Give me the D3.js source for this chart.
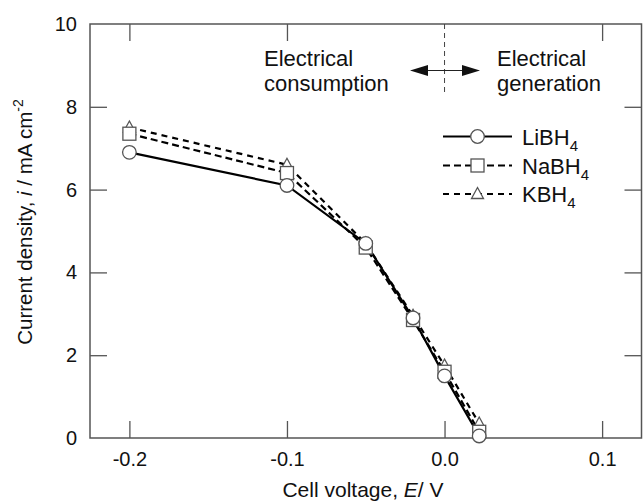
<!DOCTYPE html>
<html><head><meta charset="utf-8">
<script src="https://cdn.jsdelivr.net/npm/d3@7"></script>
<style>body{margin:0;background:#fff}svg{display:block}text{font-family:"Liberation Sans",Arial,Helvetica,sans-serif;fill:#111}</style>
</head><body><svg id="c" width="643" height="504"></svg>
<script>
// ---- data ----
const xTicks = [-0.2, -0.1, 0.0, 0.1];
const yTicks = [2, 4, 6, 8];
const yLabels = [0, 2, 4, 6, 8, 10];
const voltage = [-0.2, -0.1, -0.05, -0.02, 0.0, 0.022];
const liBH4 = [6.9, 6.1, 4.7, 2.9, 1.5, 0.05];
const naBH4 = [7.35, 6.4, 4.6, 2.85, 1.6, 0.15];
const kBH4  = [7.5, 6.6, 4.7, 2.95, 1.75, 0.35];

const svg = d3.select("#c");
const L = 90, R = 641.5, T = 24, B = 438;
const x = d3.scaleLinear().domain([-0.225, 0.125]).range([L, R]);
const y = d3.scaleLinear().domain([0, 10]).range([B, T]);
const frameCol = "#555";
const TK = 17;

// axes (inward ticks)
const fmtX = d => d.toFixed(1);
const gB = svg.append("g").attr("transform", `translate(0,${B})`)
  .call(d3.axisBottom(x).tickValues(xTicks).tickSizeInner(-TK).tickSizeOuter(0).tickPadding(14).tickFormat(fmtX));
const gL = svg.append("g").attr("transform", `translate(${L},0)`)
  .call(d3.axisLeft(y).tickValues(yLabels).tickSizeInner(-TK).tickSizeOuter(0).tickPadding(13).tickFormat(d3.format("d")));
const gR = svg.append("g").attr("transform", `translate(${R},0)`)
  .call(d3.axisRight(y).tickValues(yTicks).tickSizeInner(-TK).tickSizeOuter(0).tickFormat(""));
const gT = svg.append("g").attr("transform", `translate(0,${T})`)
  .call(d3.axisTop(x).tickValues(xTicks.filter(v => v !== 0)).tickSizeInner(-TK).tickSizeOuter(0).tickFormat(""));
[gB, gL, gR, gT].forEach(g => {
  g.select(".domain").remove();
  g.selectAll(".tick line").attr("stroke", frameCol).attr("stroke-width", 1.3);
  g.selectAll(".tick text").attr("font-size", 20).attr("fill", "#111")
    .style("font-family", '"Liberation Sans",Arial,sans-serif');
});
gL.selectAll(".tick").filter(d => d === 0 || d === 10).select("line").remove();
gB.selectAll(".tick text").attr("dy", "0.71em");

svg.append("rect").attr("x", L).attr("y", T).attr("width", R - L).attr("height", B - T)
  .attr("fill", "none").attr("stroke", frameCol).attr("stroke-width", 1.5);

// axis titles
svg.append("text").attr("x", 363).attr("y", 497).attr("text-anchor", "middle")
  .attr("font-size", 21).html('Cell voltage, <tspan font-style="italic">E</tspan>/ V');
svg.append("text").attr("transform", `translate(32,222) rotate(-90)`)
  .attr("text-anchor", "middle").attr("font-size", 20.5)
  .html('Current density, <tspan font-style="italic">i</tspan> / mA cm<tspan dy="-9" font-size="14">-2</tspan>');

// annotation: dashed line at E=0, arrow and texts
svg.append("line").attr("x1", x(0)).attr("x2", x(0)).attr("y1", T).attr("y2", 93)
  .attr("stroke", "#444").attr("stroke-width", 1).attr("stroke-dasharray", "5,4");
const ay = 70.5, ax1 = 410, ax2 = 480;
svg.append("line").attr("x1", ax1 + 10).attr("x2", ax2 - 10).attr("y1", ay).attr("y2", ay)
  .attr("stroke", "#222").attr("stroke-width", 1);
svg.append("path").attr("d", `M${ax1},${ay}L${ax1 + 18},${ay - 5.5}L${ax1 + 18},${ay + 5.5}Z`).attr("fill", "#111");
svg.append("path").attr("d", `M${ax2},${ay}L${ax2 - 18},${ay - 5.5}L${ax2 - 18},${ay + 5.5}Z`).attr("fill", "#111");
const annFont = 22, annY1 = 66, annY2 = 91;
svg.append("text").attr("x", 264).attr("y", annY1).attr("font-size", annFont).text("Electrical");
svg.append("text").attr("x", 264).attr("y", annY2).attr("font-size", annFont).text("consumption");
svg.append("text").attr("x", 497).attr("y", annY1).attr("font-size", annFont).text("Electrical");
svg.append("text").attr("x", 497).attr("y", annY2).attr("font-size", annFont).text("generation");

// series
const series = [
  {name: "KBH", vals: kBH4, dash: "6,5", shape: "tri"},
  {name: "NaBH", vals: naBH4, dash: "7,4", shape: "sq"},
  {name: "LiBH", vals: liBH4, dash: null, shape: "circ"}
];
const line = d3.line().x(d => x(d[0])).y(d => y(d[1]));
series.forEach(s => {
  const pts = voltage.map((v, i) => [v, s.vals[i]]);
  svg.append("path").datum(pts).attr("d", line).attr("fill", "none")
    .attr("stroke", "#000").attr("stroke-width", 2.2)
    .attr("stroke-dasharray", s.dash);
});
function marker(g, shape, cx, cy) {
  const st = {fill: "#fff", stroke: "#555", "stroke-width": 1.3};
  let m;
  if (shape === "circ") m = g.append("circle").attr("cx", cx).attr("cy", cy).attr("r", 6.8);
  else if (shape === "sq") m = g.append("rect").attr("x", cx - 6.5).attr("y", cy - 6.5).attr("width", 13).attr("height", 13);
  else m = g.append("path").attr("d", `M${cx},${cy - 6.5}L${cx + 6},${cy + 4.5}L${cx - 6},${cy + 4.5}Z`);
  Object.entries(st).forEach(([k, v]) => m.attr(k, v));
}
series.forEach(s => {
  const g = svg.append("g");
  voltage.forEach((v, i) => marker(g, s.shape, x(v), y(s.vals[i])));
});

// legend
const legY = [136.5, 165.5, 194];
const legendOrder = [series[2], series[1], series[0]];
legendOrder.forEach((s, i) => {
  const ly = legY[i];
  svg.append("line").attr("x1", 443).attr("x2", 512).attr("y1", ly).attr("y2", ly)
    .attr("stroke", "#000").attr("stroke-width", 2.2).attr("stroke-dasharray", s.dash);
  marker(svg, s.shape, 477.5, ly);
  const t = svg.append("text").attr("x", 522).attr("y", ly + 8).attr("font-size", 22);
  t.append("tspan").text(s.name);
  t.append("tspan").attr("dy", 6).attr("font-size", 15).text("4");
});
</script></body></html>
